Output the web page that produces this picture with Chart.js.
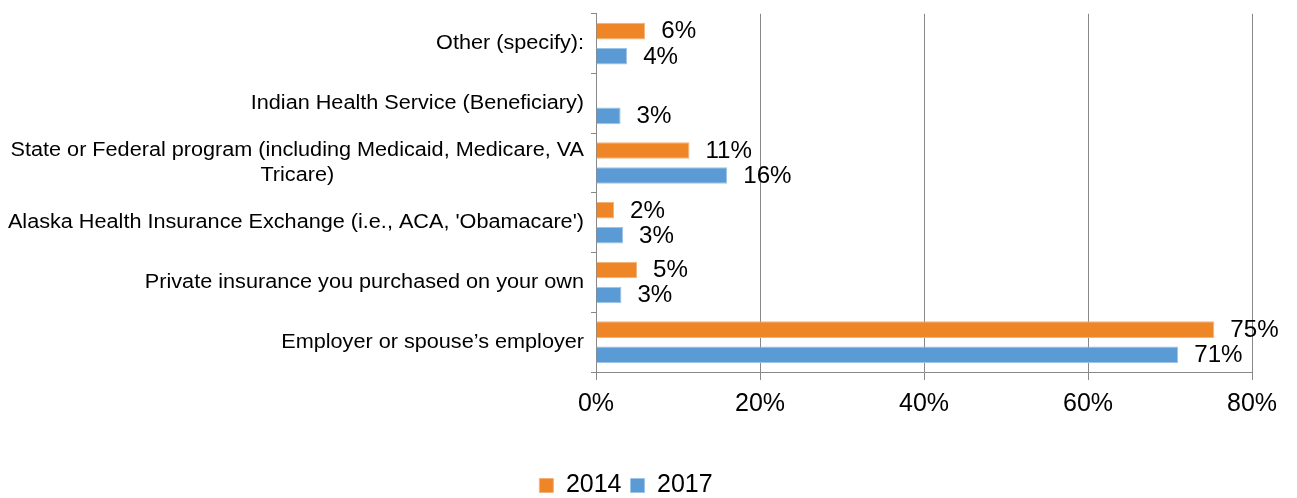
<!DOCTYPE html>
<html>
<head>
<meta charset="utf-8">
<script src="https://cdn.jsdelivr.net/npm/chart.js@4/dist/chart.umd.min.js"></script>
<style>
  html, body { margin: 0; padding: 0; background: #fff; }
  #wrap { width: 1297px; height: 498px; position: relative; }
</style>
</head>
<body>
<div id="wrap"><canvas id="insChart" width="1297" height="498"></canvas></div>
<script>
var categories = [
  "Other (specify):",
  "Indian Health Service (Beneficiary)",
  ["State or Federal program (including Medicaid, Medicare, VA", "Tricare)"],
  "Alaska Health Insurance Exchange (i.e., ACA, 'Obamacare')",
  "Private insurance you purchased on your own",
  "Employer or spouse\u2019s employer"
];
var values2014 = [6.0, null, 11.4, 2.2, 5.0, 75.4];
var values2017 = [3.8, 3.0, 16.0, 3.3, 3.1, 71.0];
var seriesNames = ["2014", "2017"];
var xTicks = [0, 20, 40, 60, 80];

var FONT = "'Liberation Sans', Arial, sans-serif";
var GRID = "#888888";

// value labels at the end of each bar
var barLabels = {
  id: 'barLabels',
  afterDatasetsDraw: function (chart) {
    var ctx = chart.ctx;
    var sx = 1.05;
    ctx.save();
    ctx.font = "23px " + FONT;
    ctx.fillStyle = "#000";
    ctx.textAlign = "left";
    ctx.textBaseline = "middle";
    ctx.scale(sx, 1);
    chart.data.datasets.forEach(function (ds, i) {
      chart.getDatasetMeta(i).data.forEach(function (bar, j) {
        var v = ds.data[j];
        if (v === null || v === undefined) return;
        ctx.fillText(Math.round(v) + "%", (bar.x + 16) / sx, bar.y + 1);
      });
    });
    ctx.restore();
  }
};

// category labels, multi-line ones centred on their widest line like Excel does
var catLabels = {
  id: 'catLabels',
  afterDraw: function (chart) {
    var ctx = chart.ctx;
    var scale = chart.scales.y;
    var right = scale.right - 12;
    var lineH = 25;
    var sx = 1.11;
    ctx.save();
    ctx.font = "19.5px " + FONT;
    ctx.fillStyle = "#000";
    ctx.textBaseline = "middle";
    ctx.textAlign = "center";
    ctx.scale(sx, 1);
    categories.forEach(function (label, i) {
      var lines = Array.isArray(label) ? label : [label];
      var w = 0;
      lines.forEach(function (l) { w = Math.max(w, ctx.measureText(l).width * sx); });
      var cx = right - w / 2;
      var cy = scale.getPixelForValue(i) - (lines.length - 1) * lineH / 2;
      lines.forEach(function (l, k) {
        ctx.fillText(l, cx / sx, cy + k * lineH);
      });
    });
    ctx.restore();
  }
};

// push the legend a little lower, as in the original
var legendShift = {
  id: 'legendShift',
  afterLayout: function (chart) {
    if (chart.legend) {
      chart.legend.top += 10;
      chart.legend.bottom += 10;
    }
  }
};

var ctx = document.getElementById("insChart").getContext("2d");
var chart = new Chart(ctx, {
  type: 'bar',
  data: {
    labels: categories,
    datasets: [{
      label: seriesNames[0],
      data: values2014,
      backgroundColor: '#EE8628',
      borderColor: '#F4B27A',
      borderWidth: 1,
      categoryPercentage: 0.84,
      barPercentage: 0.66
    }, {
      label: seriesNames[1],
      data: values2017,
      backgroundColor: '#5B9BD5',
      borderColor: '#9DC3E6',
      borderWidth: 1,
      categoryPercentage: 0.84,
      barPercentage: 0.66
    }]
  },
  options: {
    indexAxis: 'y',
    responsive: false,
    animation: false,
    devicePixelRatio: 1,
    layout: { padding: { top: 10, right: 45, left: 0, bottom: 0 } },
    plugins: {
      legend: {
        display: true,
        position: 'bottom',
        labels: {
          color: '#000',
          font: { family: FONT, size: 25 },
          boxWidth: 14,
          boxHeight: 14,
          padding: 9
        }
      },
      tooltip: { enabled: false }
    },
    scales: {
      x: {
        min: 0,
        max: 80,
        afterBuildTicks: function (scale) {
          scale.ticks = xTicks.map(function (v) { return { value: v }; });
        },
        afterFit: function (scale) {
          var lg = scale.chart.legend ? scale.chart.legend.height : 0;
          scale.height = 498 - 372 - lg;
        },
        grid: {
          color: GRID,
          lineWidth: 1,
          tickLength: 8,
          drawOnChartArea: true
        },
        border: { display: true, color: GRID, width: 1 },
        ticks: {
          color: '#000',
          font: { family: FONT, size: 25 },
          padding: 9,
          callback: function (v) { return v + "%"; }
        }
      },
      y: {
        afterFit: function (scale) { scale.width = 596; },
        grid: {
          offset: true,
          drawOnChartArea: false,
          drawTicks: true,
          tickLength: 5,
          color: GRID
        },
        border: { display: true, color: GRID, width: 1 },
        ticks: { color: 'rgba(0,0,0,0)', font: { family: FONT, size: 18 } }
      }
    }
  },
  plugins: [barLabels, catLabels, legendShift]
});
</script>
</body>
</html>
